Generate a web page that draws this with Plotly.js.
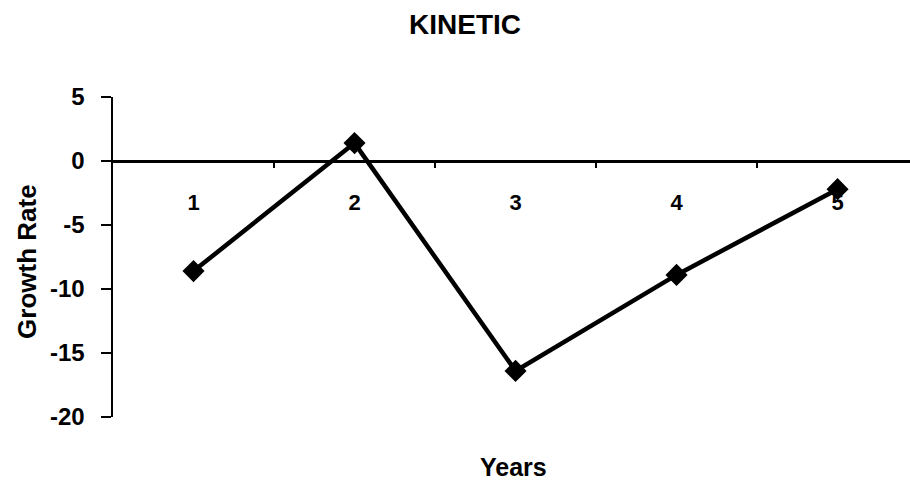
<!DOCTYPE html>
<html><head><meta charset="utf-8">
<script src="https://cdn.plot.ly/plotly-3.0.1.min.js"></script>
<style>html,body{margin:0;padding:0;background:#fff}#chart{width:910px;height:480px}</style>
</head><body><div id="chart"></div>
<script>
const years = [1, 2, 3, 4, 5];
const growthRate = [-8.6, 1.4, -16.4, -8.9, -2.2];
const yTicks = [5, 0, -5, -10, -15, -20];

const F = 'Liberation Sans, Arial, sans-serif';
const trace = {
  x: years, y: growthRate, type: 'scatter', mode: 'lines+markers',
  line: {color: '#000', width: 4.5},
  marker: {symbol: 'diamond', size: 17, color: '#000'},
  cliponaxis: false, hoverinfo: 'skip'
};
const layout = {
  width: 910, height: 480,
  margin: {l: 113, r: 0, t: 97, b: 63},
  paper_bgcolor: '#fff', plot_bgcolor: '#fff',
  showlegend: false,
  font: {family: F, color: '#000'},
  title: {text: '<b>KINETIC</b>', font: {family: F, size: 28, color: '#000'},
          x: 0.511, xanchor: 'center', y: 0.95, yanchor: 'middle'},
  xaxis: {
    type: 'linear', range: [0.5, 5.45], tickvals: years, ticktext: years.map(v => '<b>' + v + '</b>'),
    anchor: 'free', position: 0.8, showline: true, linecolor: '#000', linewidth: 2.5,
    showgrid: false, zeroline: false, ticks: '', showticklabels: true,
    ticklabelstandoff: 21,
    tickfont: {family: F, size: 22, color: '#000'},
    title: {text: ''}
  },
  xaxis2: {
    overlaying: 'x', matching: 'x', range: [0.5, 5.45],
    anchor: 'free', position: 0.8, showline: false,
    tickvals: [1.5, 2.5, 3.5, 4.5], ticks: 'outside', ticklen: 6, tickwidth: 2.5, tickcolor: '#000',
    showticklabels: false, showgrid: false, zeroline: false
  },
  yaxis: {
    range: [-20, 5], tickvals: yTicks, ticktext: yTicks.map(v => '<b>' + v + '</b>'),
    showline: true, linecolor: '#000', linewidth: 2.5,
    ticks: 'outside', ticklen: 10, tickwidth: 2.5, tickcolor: '#000',
    ticklabelstandoff: 11,
    showgrid: false, zeroline: false,
    tickfont: {family: F, size: 24, color: '#000'},
    title: {text: ''}
  },
  annotations: [{
    text: '<b>Years</b>', xref: 'paper', yref: 'paper', x: 0.503, y: -0.155,
    showarrow: false, font: {family: F, size: 25, color: '#000'}, xanchor: 'center', yanchor: 'middle'
  }, {
    text: '<b>Growth Rate</b>', xref: 'paper', yref: 'paper', x: -0.108, y: 0.4875,
    textangle: -90, showarrow: false, font: {family: F, size: 26, color: '#000'},
    xanchor: 'center', yanchor: 'middle'
  }]
};
const tickTrace = {x: [1.5], y: [0], xaxis: 'x2', yaxis: 'y', mode: 'markers', marker: {opacity: 0}, hoverinfo: 'skip'};
Plotly.newPlot('chart', [tickTrace, trace], layout, {staticPlot: true});
</script></body></html>
